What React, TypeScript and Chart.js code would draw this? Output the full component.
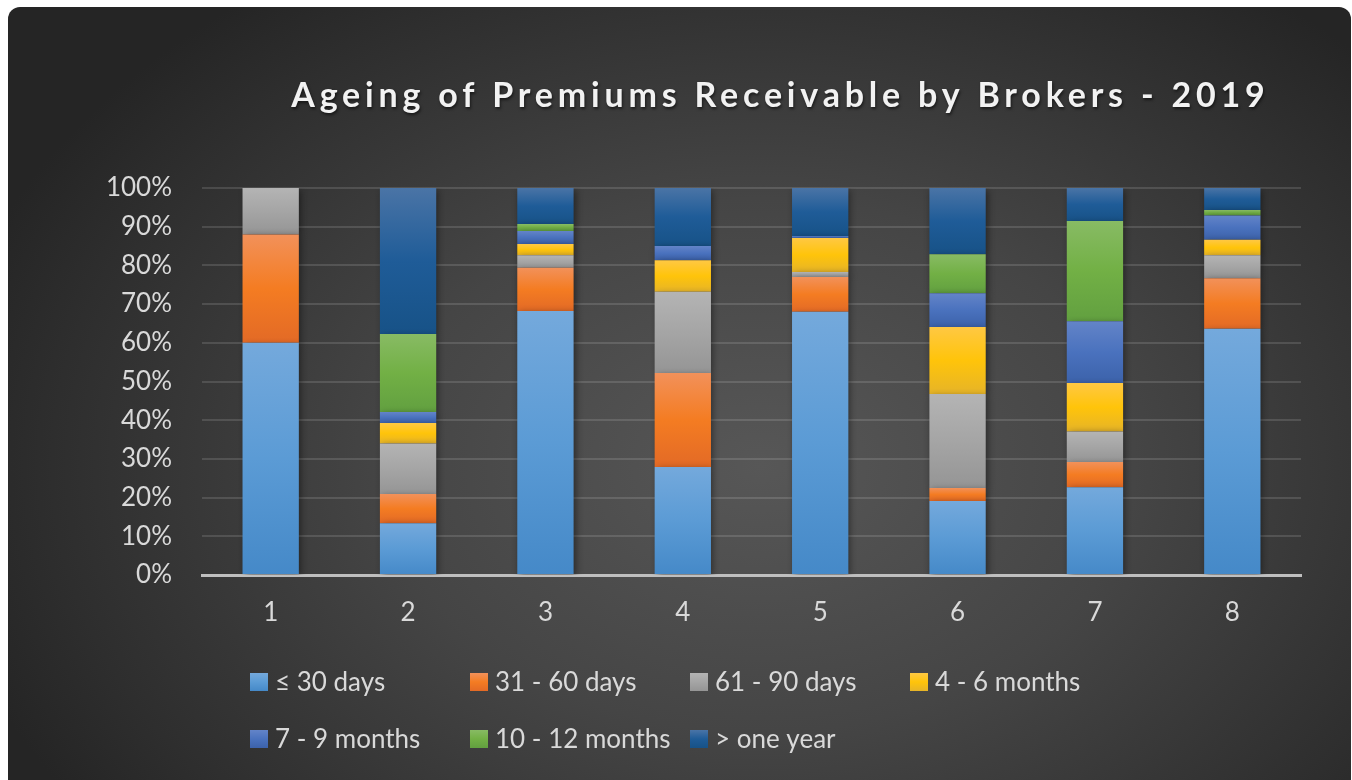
import React, { useEffect, useRef } from "react";
import { Chart, registerables } from "chart.js";

Chart.register(...registerables);

const categories = ["1", "2", "3", "4", "5", "6", "7", "8"];
const seriesNames = ["≤ 30 days", "31 - 60 days", "61 - 90 days", "4 - 6 months", "7 - 9 months", "10 - 12 months", "> one year"];
const le30 = [60.0, 13.4, 68.2, 27.9, 68.0, 19.1, 22.7, 63.6];
const d31to60 = [28.0, 7.5, 11.2, 24.3, 9.0, 3.4, 6.5, 13.1];
const d61to90 = [12.0, 13.1, 3.2, 21.0, 1.3, 24.3, 7.9, 5.9];
const m4to6 = [0, 5.3, 2.9, 8.1, 8.8, 17.3, 12.5, 4.0];
const m7to9 = [0, 2.8, 3.4, 3.7, 0.5, 8.7, 16.0, 6.3];
const m10to12 = [0, 20.2, 1.8, 0, 0, 10.1, 25.9, 1.4];
const overYear = [0, 37.7, 9.3, 15.0, 12.4, 17.1, 8.5, 5.7];
const yTicks = [0, 10, 20, 30, 40, 50, 60, 70, 80, 90, 100];

const seriesValues = [le30, d31to60, d61to90, m4to6, m7to9, m10to12, overYear];
// [top, mid, bottom] gradient stops
const seriesColors = [
  ["#74a9dc", "#5b9bd5", "#4589c8"],
  ["#f2915a", "#f47c22", "#e36a26"],
  ["#b4b4b4", "#a5a5a5", "#959595"],
  ["#ffc843", "#ffc40a", "#e6b428"],
  ["#6384c8", "#4a72be", "#3c62aa"],
  ["#88bb64", "#72b045", "#62a040"],
  ["#4a74a6", "#1f5c98", "#175287"],
];

const legendCols = [250, 470, 690, 910];
const legendRows = [682, 739];

const titlePlugin = {
  id: "customTitle",
  afterDraw(chart: any) {
    const ctx = chart.ctx;
    ctx.save();
    const spacing = 4.8;
    ctx.font = "bold 34px Lato";
    (ctx as any).letterSpacing = spacing + "px";
    ctx.fillStyle = "#f2f2f2";
    ctx.textAlign = "left";
    ctx.textBaseline = "alphabetic";
    ctx.shadowColor = "rgba(0,0,0,0.55)";
    ctx.shadowBlur = 3;
    ctx.shadowOffsetX = 1;
    ctx.shadowOffsetY = 2;
    const text = "Ageing of Premiums Receivable by Brokers - 2019";
    const w = ctx.measureText(text).width - spacing;
    ctx.fillText(text, 778 - w / 2, 107);
    ctx.restore();

    // legend
    ctx.save();
    ctx.font = "26px Lato";
    ctx.textBaseline = "middle";
    ctx.textAlign = "left";
    seriesNames.forEach((name, i) => {
      const col = i % 4;
      const row = Math.floor(i / 4);
      const x = legendCols[col];
      const y = legendRows[row];
      const c = seriesColors[i];
      const g = ctx.createLinearGradient(0, y - 9, 0, y + 9);
      g.addColorStop(0, c[0]);
      g.addColorStop(0.5, c[1]);
      g.addColorStop(1, c[2]);
      ctx.fillStyle = g;
      ctx.fillRect(x, y - 9, 18, 18);
      ctx.fillStyle = "#d9d9d9";
      ctx.fillText(name, x + 25, y + 1);
    });
    ctx.restore();
  },
};

const shadowPlugin = {
  id: "barShadow",
  beforeDatasetsDraw(chart: any) {
    const ctx = chart.ctx;
    ctx.save();
    ctx.shadowColor = "rgba(0,0,0,0.45)";
    ctx.shadowBlur = 7;
    ctx.shadowOffsetX = 2;
    ctx.shadowOffsetY = 2;
  },
  afterDatasetsDraw(chart: any) {
    chart.ctx.restore();
  },
};

function makeGradient(c: any, si: number) {
  const cols = seriesColors[si];
  const chart = c.chart;
  const y = chart.scales && chart.scales.y;
  if (!y || c.dataIndex === undefined) return cols[1];
  const i = c.dataIndex;
  let low = 0;
  for (let k = 0; k < si; k++) low += seriesValues[k][i];
  const high = low + seriesValues[si][i];
  const top = y.getPixelForValue(high);
  const bot = y.getPixelForValue(low);
  if (!isFinite(top) || !isFinite(bot) || top === bot) return cols[1];
  const g = chart.ctx.createLinearGradient(0, top, 0, bot);
  g.addColorStop(0, cols[0]);
  g.addColorStop(0.5, cols[1]);
  g.addColorStop(1, cols[2]);
  return g;
}

export default function App() {
  const ref = useRef<HTMLCanvasElement>(null);
  useEffect(() => {
    if (!ref.current) return;
    const chart = new Chart(ref.current, {
      type: "bar",
      data: {
        labels: categories,
        datasets: seriesNames.map((name, si) => ({
          label: name,
          data: seriesValues[si],
          backgroundColor: (c: any) => makeGradient(c, si),
          borderWidth: 0,
          barPercentage: 0.41,
          categoryPercentage: 1,
        })),
      },
      options: {
        responsive: false,
        animation: false,
        devicePixelRatio: 1,
        layout: { padding: { top: 188, right: 51, bottom: 145, left: 0 } },
        plugins: {
          legend: { display: false },
          title: { display: false },
          tooltip: { enabled: false },
        },
        scales: {
          x: {
            stacked: true,
            grid: { display: false, drawTicks: false },
            border: { display: true, color: "#bfbfbf", width: 3 },
            ticks: { color: "#d9d9d9", font: { family: "Lato", size: 26 }, padding: 22 },
            afterFit: (s: any) => {
              s.height = 60;
            },
          },
          y: {
            stacked: true,
            min: 0,
            max: 100,
            afterBuildTicks: (s: any) => {
              s.ticks = yTicks.map((v) => ({ value: v }));
            },
            grid: {
              color: (c: any) => (c.tick && c.tick.value === 0 ? "rgba(0,0,0,0)" : "rgba(255,255,255,0.13)"),
              lineWidth: 2,
              drawTicks: false,
            },
            border: { display: false },
            ticks: {
              color: "#d9d9d9",
              font: { family: "Lato", size: 26 },
              padding: 30,
              callback: (v: any) => v + "%",
            },
            afterFit: (s: any) => {
              s.width = 202;
            },
          },
        },
      },
      plugins: [shadowPlugin, titlePlugin],
    });
    return () => chart.destroy();
  }, []);

  return (
    <div style={{ position: "fixed", left: 0, top: 0, width: 1352, height: 780, background: "#ffffff", overflow: "hidden" }}>
      <div
        style={{
          position: "absolute",
          left: 8,
          top: 7,
          width: 1343,
          height: 790,
          borderRadius: 12,
          background: "radial-gradient(ellipse 62% 75% at 56% 58%, #575757 0%, #454545 45%, #2e2e2e 85%, #252525 100%)",
        }}
      />
      <canvas ref={ref} width={1352} height={780} style={{ position: "absolute", left: 0, top: 0, width: 1352, height: 780 }} />
    </div>
  );
}
